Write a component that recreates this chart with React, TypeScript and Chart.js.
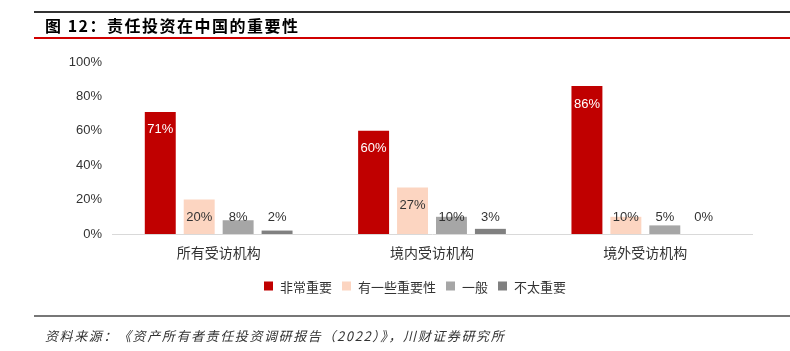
import React, { useEffect, useRef } from "react";
import { Chart, registerables } from "chart.js";

Chart.register(...registerables);

const categories = ["所有受访机构", "境内受访机构", "境外受访机构"];
const seriesNames = ["非常重要", "有一些重要性", "一般", "不太重要"];
const veryImportant = [71, 60, 86];
const somewhatImportant = [20, 27, 10];
const neutral = [8, 10, 5];
const notImportant = [2, 3, 0];
const yTicks = [0, 20, 40, 60, 80, 100];

const colors = ["#C00000", "#FCD5C1", "#A6A6A6", "#808080"];
const labelColors = ["#FFFFFF", "#333333", "#333333", "#333333"];

const FONT = "'Liberation Sans', Arial, sans-serif";
const CJK = "'Noto Sans CJK SC', sans-serif";

const valueLabels = {
  id: "valueLabels",
  afterDatasetsDraw(chart: any) {
    const ctx = chart.ctx;
    const base = chart.scales.y.getPixelForValue(0);
    ctx.save();
    ctx.font = `13px ${FONT}`;
    ctx.textAlign = "center";
    ctx.textBaseline = "middle";
    chart.data.datasets.forEach((ds: any, di: number) => {
      const meta = chart.getDatasetMeta(di);
      meta.data.forEach((bar: any, i: number) => {
        const v = ds.data[i];
        const y = Math.min(bar.y + 18, base - 17);
        ctx.fillStyle = labelColors[di];
        ctx.fillText(v + "%", bar.x, y);
      });
    });
    ctx.restore();
  },
};

const customLegend = {
  id: "customLegend",
  afterDraw(chart: any) {
    const ctx = chart.ctx;
    ctx.save();
    ctx.font = `13px ${CJK}`;
    ctx.textBaseline = "middle";
    const box = 9;
    const gapBoxText = 7;
    const gapItems = 10;
    const items = chart.data.datasets.map((ds: any) => ({
      label: ds.label,
      color: ds.backgroundColor,
      w: ctx.measureText(ds.label).width,
    }));
    const total = items.reduce((s: number, it: any) => s + box + gapBoxText + it.w, 0) + gapItems * (items.length - 1);
    let x = 415 - total / 2;
    const yc = 286;
    items.forEach((it: any) => {
      ctx.fillStyle = it.color;
      ctx.fillRect(x, yc - box / 2, box, box);
      x += box + gapBoxText;
      ctx.fillStyle = "#333333";
      ctx.fillText(it.label, x, yc + 1);
      x += it.w + gapItems;
    });
    ctx.restore();
  },
};

function BarChart() {
  const ref = useRef<HTMLCanvasElement>(null);
  useEffect(() => {
    const series = [veryImportant, somewhatImportant, neutral, notImportant];
    const chart = new Chart(ref.current!, {
      type: "bar",
      data: {
        labels: categories,
        datasets: series.map((d, i) => ({
          label: seriesNames[i],
          data: d,
          backgroundColor: colors[i],
          borderWidth: 0,
          barPercentage: 0.795,
          categoryPercentage: 0.73,
        })),
      },
      options: {
        animation: false,
        responsive: false,
        maintainAspectRatio: false,
        layout: { padding: { left: 0, right: 38, top: 62, bottom: 0 } },
        plugins: {
          legend: { display: false },
          tooltip: { enabled: false },
        },
        scales: {
          y: {
            min: 0,
            max: 100,
            afterBuildTicks(scale: any) {
              scale.ticks = yTicks.map((v) => ({ value: v }));
            },
            afterFit(scale: any) {
              scale.width = 112;
            },
            grid: { display: false, drawTicks: false },
            border: { display: false },
            ticks: {
              padding: 10,
              color: "#333333",
              font: { family: FONT, size: 13 },
              callback: (v: any) => v + "%",
            },
          },
          x: {
            afterFit(scale: any) {
              scale.height = 351 - 234;
            },
            grid: { display: false, drawTicks: false },
            border: { display: true, color: "#D9D9D9", width: 1 },
            ticks: {
              padding: 10,
              color: "#333333",
              font: { family: CJK, size: 14 },
            },
          },
        },
      },
      plugins: [valueLabels, customLegend],
    });
    return () => chart.destroy();
  }, []);
  return (
    <canvas
      ref={ref}
      width={790}
      height={351}
      style={{ position: "absolute", left: 0, top: 0, width: 790, height: 351 }}
    />
  );
}

export default function App() {
  useEffect(() => {
    document.body.style.margin = "0";
  }, []);
  return (
    <div style={{ position: "relative", width: 790, height: 351, background: "#fff", overflow: "hidden" }}>
      <BarChart />
      <div style={{ position: "absolute", left: 34, right: 0, top: 11, height: 2, background: "#333" }} />
      <div
        style={{
          position: "absolute",
          left: 45,
          top: 14,
          fontFamily: CJK,
          fontWeight: 700,
          fontSize: 16,
          letterSpacing: 1.5,
          color: "#000",
          lineHeight: "22px",
        }}
      >
        图 12：责任投资在中国的重要性
      </div>
      <div style={{ position: "absolute", left: 34, right: 0, top: 37, height: 2, background: "#D00000" }} />
      <div style={{ position: "absolute", left: 34, right: 0, top: 315, height: 2, background: "#777" }} />
      <div
        style={{
          position: "absolute",
          left: 45,
          top: 326,
          fontFamily: CJK,
          fontStyle: "italic",
          fontSize: 13,
          letterSpacing: 1.6,
          color: "#333",
          lineHeight: "20px",
        }}
      >
        资料来源：《资产所有者责任投资调研报告（2022）》，川财证券研究所
      </div>
    </div>
  );
}
